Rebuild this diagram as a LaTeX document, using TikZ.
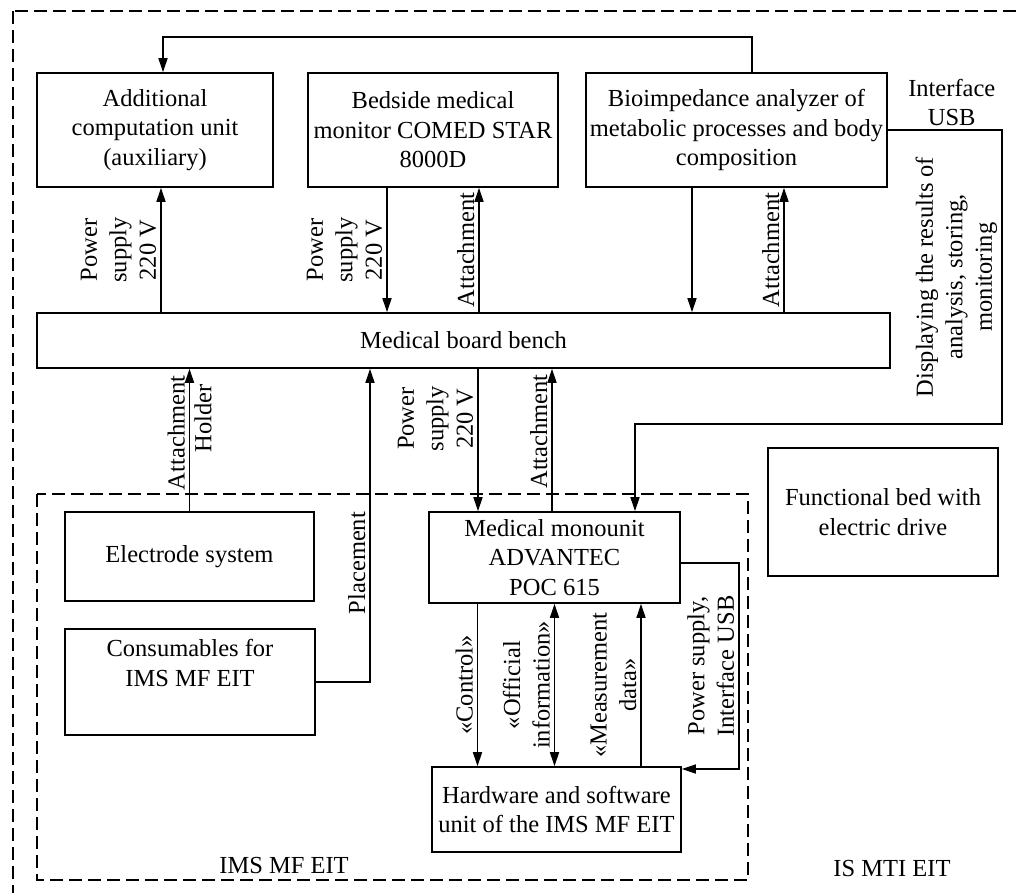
\documentclass[tikz,border=0pt]{standalone}
\usepackage{fontspec}
\setmainfont{Liberation Serif}
\usetikzlibrary{arrows.meta}

\begin{document}
\begin{tikzpicture} [
        x=1pt, y=-1pt,
        font=\fontsize{24.5}{29.5}\selectfont,
        >={Triangle[length=14pt,width=9pt]},
        block/.style={draw, line width=1.6pt, align=center, inner sep=2pt},
        link/.style={draw, line width=1.5pt, ->},
        frame/.style={draw, line width=1.5pt, dash pattern=on 13pt off 6pt},
        vtext/.style={rotate=90, align=center, inner sep=4pt},
    ]
    \useasboundingbox (0,0) rectangle (1019,892);
    \clip (0,0) rectangle (1019,892);
    % Frames of IS MTI EIT and IMS MF EIT
    \draw[frame] (13,11) rectangle (1040,920);
    \draw[frame] (37,494) rectangle (748,880);
    \node (ims) at (284,865) {IMS MF EIT};
    \node (ismti) at (892,868) {IS MTI EIT};
    % First we draw the blocks
    \node[block, minimum width=236pt, minimum height=114pt] (aux) at (155,130)
        {Additional\\computation unit\\(auxiliary)};
    \node[block, minimum width=250pt, minimum height=114pt] (monitor) at (433,130)
        {Bedside medical\\monitor COMED STAR\\8000D};
    \node[block, minimum width=301pt, minimum height=114pt] (analyzer) at (736.5,130)
        {Bioimpedance analyzer of\\metabolic processes and body\\composition};
    \node[block, minimum width=853pt, minimum height=55pt] (bench) at (463.5,340.5)
        {Medical board bench};
    \node[block, minimum width=249pt, minimum height=89pt] (electrodes) at (189.5,556.5)
        {Electrode system};
    \node[block, minimum width=250pt, minimum height=106pt] (consum) at (190,682)
        {Consumables for\\IMS MF EIT\\\strut};
    \node[block, minimum width=251pt, minimum height=91pt] (monounit) at (554.5,557.5)
        {Medical monounit\\ADVANTEC\\POC 615};
    \node[block, minimum width=249pt, minimum height=85pt] (hwunit) at (556.5,809.5)
        {Hardware and software\\unit of the IMS MF EIT};
    \node[block, minimum width=230pt, minimum height=128pt] (bed) at (883,512)
        {Functional bed with\\electric drive};
    % Connections of the upper blocks with the bench
    \draw[link] ([xshift=15.5pt]analyzer.north) -- ++(0,-35) -| ([xshift=8pt]aux.north);
    \draw[link] ([xshift=6pt]aux.south |- bench.north) --
        node[vtext, anchor=south] {Power\\supply\\220 V} ([xshift=6pt]aux.south);
    \draw[link] ([xshift=-46pt]monitor.south) --
        node[vtext, anchor=south] {Power\\supply\\220 V} ([xshift=-46pt]monitor.south |- bench.north);
    \draw[link] ([xshift=46pt]monitor.south |- bench.north) --
        node[vtext, anchor=south] {Attachment} ([xshift=46pt]monitor.south);
    \draw[link] ([xshift=-44.5pt]analyzer.south) -- ([xshift=-44.5pt]analyzer.south |- bench.north);
    \draw[link] ([xshift=47.5pt]analyzer.south |- bench.north) --
        node[vtext, anchor=south] {Attachment} ([xshift=47.5pt]analyzer.south);
    \coordinate (usbturn) at (1002,424);
    \draw[link] (analyzer.east) -| node[pos=0.28, above, align=center] {Interface\\USB}
        node[pos=0.75, vtext, anchor=south] {Displaying the results of\\analysis, storing,\\monitoring}
        (usbturn) -| ([xshift=80.5pt]monounit.north);
    % Connections below the bench
    \draw[link] (electrodes.north) -- node[pos=0.55, vtext, anchor=south] {Attachment}
        node[pos=0.65, vtext, anchor=north] {Holder} (electrodes.north |- bench.south);
    \draw[link] (consum.east) -| node[pos=0.69, vtext, anchor=south] {Placement}
        ([xshift=-93.5pt]bench.south);
    \draw[link] ([xshift=-76.5pt]monounit.north |- bench.south) --
        node[pos=0.35, vtext, anchor=south] {Power\\supply\\220 V} ([xshift=-76.5pt]monounit.north);
    \draw[link] ([xshift=-2.5pt]monounit.north) --
        node[pos=0.56, vtext, anchor=south] {Attachment} ([xshift=-2.5pt]monounit.north |- bench.south);
    % Monounit and hardware unit
    \draw[link] ([xshift=-77pt]monounit.south) --
        node[vtext, anchor=south] {«Control»} ([xshift=-77pt]monounit.south |- hwunit.north);
    \draw[link, <->] (monounit.south) --
        node[vtext, anchor=south] {«Official\\information»} (monounit.south |- hwunit.north);
    \draw[link] ([xshift=86.5pt]monounit.south |- hwunit.north) --
        node[vtext, anchor=south] {«Measurement\\data»} ([xshift=86.5pt]monounit.south);
    \draw[link] ([yshift=-5.5pt]monounit.east) -- ++(58,0) |-
        node[pos=0.25, vtext, anchor=south] {Power supply,\\Interface USB} ([yshift=40.5pt]hwunit.east);
\end{tikzpicture}
\end{document}
